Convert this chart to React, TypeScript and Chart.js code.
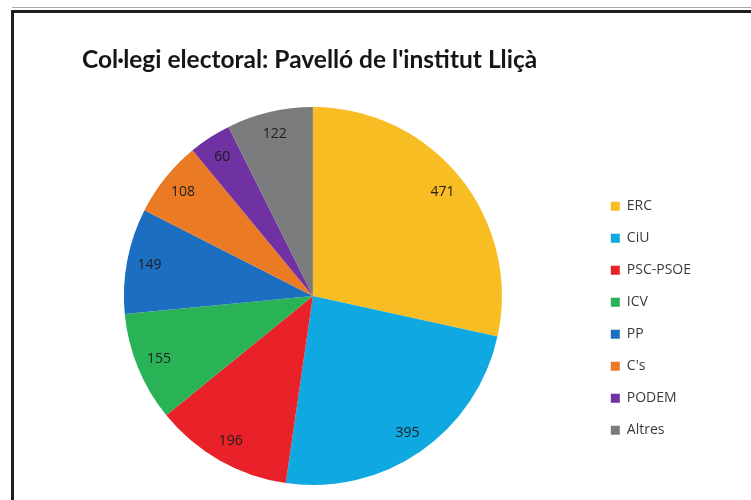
import React, { useEffect, useRef } from "react";
import { Chart, registerables } from "chart.js";

Chart.register(...registerables);

const TITLE = "Col·legi electoral: Pavelló de l'institut Lliçà";
const parties = ["ERC", "CiU", "PSC-PSOE", "ICV", "PP", "C's", "PODEM", "Altres"];
const votes = [471, 395, 196, 155, 149, 108, 60, 122];
const colors = ["#F9BD24", "#10A8E0", "#E82228", "#2AB257", "#1C6EC1", "#EA7A24", "#7031A2", "#797B7D"];

const valueLabels = {
  id: "valueLabels",
  afterDatasetsDraw(chart: any) {
    const ctx = chart.ctx;
    const meta = chart.getDatasetMeta(0);
    const data = chart.data.datasets[0].data;
    ctx.save();
    ctx.font = '14px "Open Sans"';
    ctx.fillStyle = "#1e1e1e";
    ctx.textAlign = "center";
    ctx.textBaseline = "middle";
    meta.data.forEach((arc: any, i: number) => {
      const p = arc.getProps(["x", "y", "startAngle", "endAngle", "outerRadius"], true);
      const mid = (p.startAngle + p.endAngle) / 2;
      const r = p.outerRadius * 0.88;
      ctx.fillText(String(data[i]), p.x + Math.cos(mid) * r, p.y + Math.sin(mid) * r);
    });
    ctx.restore();
  },
};

export default function App() {
  const ref = useRef<HTMLCanvasElement>(null);
  useEffect(() => {
    if (!ref.current) return;
    const chart = new Chart(ref.current, {
      type: "pie",
      data: {
        labels: parties,
        datasets: [
          {
            data: votes,
            backgroundColor: colors,
            borderWidth: 0,
          },
        ],
      },
      options: {
        responsive: false,
        animation: false,
        devicePixelRatio: 1,
        layout: { padding: { left: 33, right: 50, top: 107, bottom: 15 } },
        plugins: {
          tooltip: { enabled: false },
          title: { display: false },
          legend: {
            position: "right",
            title: { display: true, text: " ", font: { size: 12, lineHeight: 1.2 }, padding: { top: 30, bottom: 0 } },
            labels: {
              boxWidth: 9,
              boxHeight: 9,
              padding: 18,
              color: "#3a3a3a",
              font: { family: '"Open Sans"', size: 14 },
            },
          },
        },
      },
      plugins: [valueLabels],
    });
    return () => chart.destroy();
  }, []);

  return (
    <div style={{ position: "absolute", left: 0, top: 0, width: 751, height: 500, overflow: "hidden", background: "#fff" }}>
      <div style={{ position: "absolute", left: 12, top: 7, width: 760, height: 1, background: "#a8a8a8" }} />
      <div
        style={{
          position: "absolute",
          left: 11,
          top: 10,
          width: 760,
          height: 600,
          borderTop: "3px solid #1e1e1e",
          borderLeft: "3px solid #1e1e1e",
        }}
      />
      <canvas ref={ref} width={751} height={500} style={{ position: "absolute", left: 0, top: 0, display: "block" }} />
      <div
        style={{
          position: "absolute",
          left: 82,
          top: 44,
          fontFamily: "Lato",
          fontWeight: 700,
          fontSize: 24.5,
          color: "#161616",
          whiteSpace: "nowrap",
          lineHeight: "30px",
        }}
      >
        {TITLE}
      </div>
    </div>
  );
}
